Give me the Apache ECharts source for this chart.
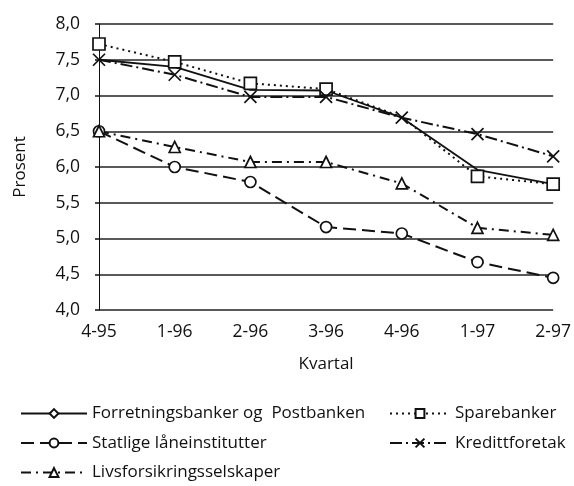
<!DOCTYPE html>
<html>
<head>
  <meta charset="utf-8" />
  <title>Rente</title>
  <script src="https://cdn.jsdelivr.net/npm/echarts@6"></script>
  <style>
    html, body {
      height: 100%;
      margin: 0;
      padding: 0;
      background: #fff;
    }
    #main {
      width: 574px;
      height: 486px;
    }
  </style>
</head>
<body>
  <div id="main"></div>
  <script type="text/javascript">
    const quarters = ['4-95', '1-96', '2-96', '3-96', '4-96', '1-97', '2-97'];

    const forretningsbanker = [7.50, 7.40, 7.08, 7.07, 6.69, 5.96, 5.76];
    const sparebanker = [7.72, 7.47, 7.17, 7.09, 6.70, 5.87, 5.76];
    const statlige = [6.50, 6.00, 5.79, 5.16, 5.07, 4.67, 4.45];
    const kredittforetak = [7.50, 7.29, 6.98, 6.98, 6.69, 6.46, 6.15];
    const livsforsikring = [6.50, 6.28, 6.07, 6.07, 5.77, 5.15, 5.05];

    const font = 'Open Sans';
    const ink = '#111';
    const crossPath = 'path://M0,0L10,10M0,10L10,0';

    const chart = echarts.init(document.getElementById('main'));

    function line(name, data, symbol, size, dash, width) {
      return {
        name: name,
        type: 'line',
        data: data,
        symbol: symbol,
        symbolSize: size,
        showSymbol: true,
        lineStyle: { color: ink, width: width, type: dash },
        itemStyle: {
          color: symbol === crossPath ? 'none' : '#fff',
          borderColor: ink,
          borderWidth: 1.7
        },
        emphasis: { disabled: true },
        animation: false
      };
    }

    // in the scan the square at 4-96 is lost under the crosses
    const spareData = sparebanker.map((v, i) => i === 4 ? { value: v, symbol: 'none' } : v);

    const forr = line('Forretningsbanker og  Postbanken', forretningsbanker, 'diamond', 8, 'solid', 1.8);
    forr.showSymbol = false;

    const legendText = { fontFamily: font, fontSize: 17, color: ink };

    const option = {
      backgroundColor: '#fff',
      grid: { left: 99, right: 19, top: 24, bottom: 176 },
      xAxis: {
        type: 'category',
        data: quarters,
        boundaryGap: false,
        name: 'Kvartal',
        nameLocation: 'middle',
        nameGap: 46,
        nameTextStyle: { fontFamily: font, fontSize: 17, color: ink },
        axisLine: { show: false },
        axisTick: { show: false },
        axisLabel: { fontFamily: font, fontSize: 17.5, color: ink, margin: 13 },
        splitLine: { show: false }
      },
      yAxis: {
        type: 'value',
        min: 4,
        max: 8,
        interval: 0.5,
        name: 'Prosent',
        nameLocation: 'middle',
        nameGap: 70,
        nameTextStyle: { fontFamily: font, fontSize: 17, color: ink },
        axisLine: { show: true, lineStyle: { color: ink, width: 1 } },
        axisTick: { show: true, length: 4, lineStyle: { color: ink, width: 1.5 } },
        axisLabel: {
          fontFamily: font, fontSize: 17.5, color: ink, margin: 19,
          formatter: v => v.toFixed(1).replace('.', ',')
        },
        splitLine: { show: true, lineStyle: { color: '#222', width: 1.5 } }
      },
      legend: [
        {
          left: 15, top: 400, orient: 'vertical', itemGap: 12.5,
          itemWidth: 66, itemHeight: 11, textStyle: legendText,
          data: ['Forretningsbanker og  Postbanken', 'Statlige låneinstitutter', 'Livsforsikringsselskaper'],
          selectedMode: false
        },
        {
          left: 384, top: 400, orient: 'vertical', itemGap: 12.5,
          itemWidth: 60, itemHeight: 11, textStyle: legendText,
          data: ['Sparebanker', 'Kredittforetak'],
          selectedMode: false
        }
      ],
      series: [
        forr,
        line('Sparebanker', spareData, 'rect', 12, [2, 4], 2),
        line('Statlige låneinstitutter', statlige, 'circle', 11, [13, 6], 2),
        line('Kredittforetak', kredittforetak, crossPath, 12, [12, 4, 2, 4], 2),
        line('Livsforsikringsselskaper', livsforsikring, 'triangle', 11, [10, 5, 2, 5], 2)
      ]
    };

    chart.setOption(option);
  </script>
</body>
</html>
